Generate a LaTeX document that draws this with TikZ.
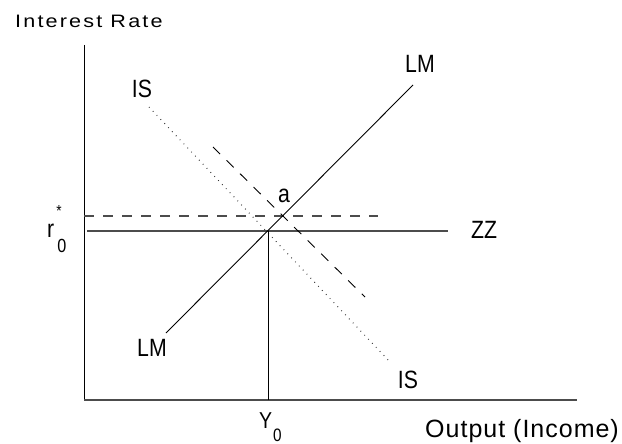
\documentclass[tikz,border=0pt]{standalone}
\usepackage{fontspec}
\setmainfont{Liberation Sans}
\newfontfamily\widefont[LetterSpace=12, FakeStretch=1.2]{Liberation Sans}
\newfontfamily\axisfont[LetterSpace=4]{Liberation Sans}
\newfontfamily\curvefont[FakeStretch=0.85]{Liberation Sans}
\usetikzlibrary{positioning}

\begin{document}
\begin{tikzpicture}[x=1pt, y=-1pt,
    axis/.style={line width=1.2pt, draw=black!70},
    yaxis/.style={line width=0.9pt, draw=black},
    curve/.style={line width=0.9pt, draw=black},
    flat/.style={line width=1.2pt, draw=black!70},
    shifted/.style={curve, dash pattern=on 10pt off 9pt},
    shiftedflat/.style={flat, dash pattern=on 10pt off 9pt},
    dots/.style={line width=1pt, draw=black!80, dash pattern=on 0.8pt off 4.8pt},
    lbl/.style={font=\fontsize{25}{30}\curvefont, inner sep=0pt},
  ]
    \useasboundingbox (0,0) rectangle (622,444);

    % axes
    \coordinate (origin) at (84,400);
    \coordinate (ytop) at (84,45);
    \coordinate (xend) at (577,400);
    \draw[yaxis] (ytop) -- (origin);
    \draw[axis] (origin) -- (xend);

    % equilibrium points
    \coordinate (eq) at (268,231);
    \coordinate (eqa) at (283,216);

    % ZZ and shifted ZZ
    \coordinate (zzl) at (87,231);
    \coordinate (zzr) at (448,231);
    \coordinate (zzdl) at (84,216);
    \coordinate (zzdr) at (378,216);
    \draw[flat] (zzl) -- (zzr);
    \draw[shiftedflat] (zzdl) -- (zzdr);

    % LM
    \coordinate (lmlo) at (166,333);
    \coordinate (lmhi) at (413,85);
    \draw[curve] (lmlo) -- (lmhi);

    % IS and shifted IS
    \coordinate (ishi) at (149,107);
    \coordinate (islo) at (390,362);
    \draw[dots] (ishi) -- (islo);
    \coordinate (isshi) at (213,147);
    \coordinate (isslo) at (365,297);
    \draw[shifted] (isshi) -- (isslo);

    % output level
    \draw[curve] (eq) -- (eq |- origin);

    % labels
    \node[anchor=base west, inner sep=0pt, font=\fontsize{18}{22}\widefont] (ylabel) at (15,28) {Interest Rate};
    \node[anchor=base west, inner sep=0pt, font=\fontsize{25}{30}\axisfont] (xlabel) at (425,437) {Output (Income)};
    \node[lbl] (lmtop) at (420,64) {LM};
    \node[lbl] (lmbot) at (152,348) {LM};
    \node[lbl] (istop) at (142,89) {IS};
    \node[lbl] (isbot) at (408,380) {IS};
    \node[lbl] (zzlabel) at (484,230) {ZZ};
    \node[lbl] (alabel) at (284,196) {a};
    \node[lbl, anchor=base west, font=\fontsize{23}{28}\curvefont] (ylevel) at (259,428)
      {Y\kern1pt\raisebox{-13pt}{\fontsize{18}{20}\curvefont 0}};
    \node[lbl, anchor=base west] (rlevel) at (47,237)
      {r\rlap{\kern2pt\raisebox{21pt}{\fontsize{16}{18}\selectfont *}}\kern3pt\raisebox{-15pt}{\fontsize{19}{22}\curvefont 0}};
  \end{tikzpicture}
\end{document}
